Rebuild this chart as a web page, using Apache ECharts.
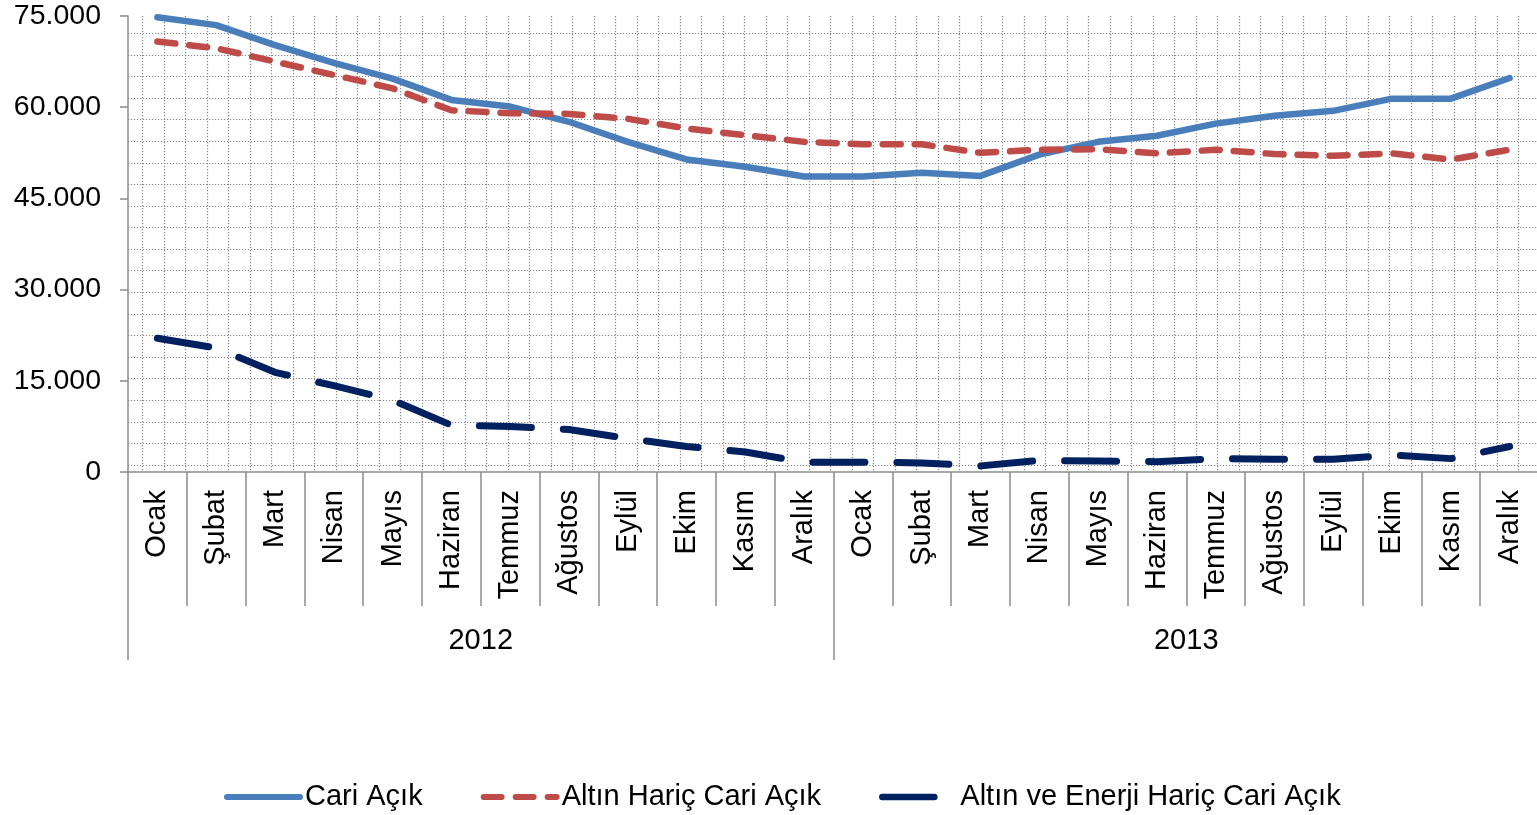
<!DOCTYPE html>
<html>
<head>
<meta charset="utf-8">
<script src="https://cdn.jsdelivr.net/npm/echarts@6/dist/echarts.min.js"></script>
<style>
html,body{margin:0;padding:0;background:#fff;}
#chart{width:1537px;height:815px;}
</style>
</head>
<body>
<div id="chart"></div>
<script>
const months = ['Ocak','Şubat','Mart','Nisan','Mayıs','Haziran','Temmuz','Ağustos','Eylül','Ekim','Kasım','Aralık',
                'Ocak','Şubat','Mart','Nisan','Mayıs','Haziran','Temmuz','Ağustos','Eylül','Ekim','Kasım','Aralık'];
const years = ['2012','2013'];
const seriesNames = ['Cari Açık','Altın Hariç Cari Açık','Altın ve Enerji Hariç Cari Açık'];
const cariAcik = [74800, 73500, 70200, 67300, 64700, 61200, 60100, 57600, 54300, 51400, 50200, 48600,
                  48600, 49200, 48700, 52200, 54300, 55300, 57300, 58600, 59400, 61400, 61400, 64800];
const altinHaric = [70800, 69700, 67500, 65300, 63100, 59500, 59000, 58900, 58100, 56500, 55400, 54300,
                    53900, 53900, 52500, 53000, 53100, 52400, 53000, 52300, 52000, 52400, 51400, 53000];
const altinEnerjiHaric = [22000, 20400, 16400, 14200, 11800, 7700, 7500, 7000, 5500, 4200, 3300, 1600,
                          1600, 1500, 1000, 1900, 1800, 1700, 2200, 2100, 2100, 2800, 2200, 4200];

const FONT = 'Liberation Sans, Arial, sans-serif';
const AXIS_COLOR = '#8c8c8c';
const DOT = {color: '#888888', width: 1.2, type: [1.2, 1.8]};
const COLORS = ['#4A7EBB', '#BE4B48', '#002060'];
const WIDTHS = [6.5, 6.5, 7];
const DASHES = ['solid', [18, 14], [52, 32]];

function fmt(v) {
  return String(v).replace(/\B(?=(\d{3})+(?!\d))/g, '.');
}

const chart = echarts.init(document.getElementById('chart'), null, {renderer: 'canvas'});
chart.setOption({
  backgroundColor: '#fff',
  animation: false,
  grid: [
    {left: 128, top: 16, width: 1411, height: 456, containLabel: false, outerBoundsMode: 'none'},
    {left: 142.7, top: 16, width: 1376, height: 456, containLabel: false, outerBoundsMode: 'none'},
    {left: 128, top: 33.3, width: 1411, height: 431.7, containLabel: false, outerBoundsMode: 'none'}
  ],
  legend: {
    left: 219, top: 776,
    itemWidth: 73, itemHeight: 14, itemGap: 58,
    textStyle: {fontSize: 29, fontFamily: FONT, color: '#000', lineHeight: 32},
    data: seriesNames.map((n, i) => ({
      name: n,
      itemStyle: {opacity: 0},
      lineStyle: {color: COLORS[i], width: WIDTHS[i] - 0.5, type: DASHES[i], cap: 'round'}
    }))
  },
  xAxis: [
    {
      type: 'category', gridIndex: 0, data: months, boundaryGap: true, position: 'bottom',
      axisLine: {show: true, lineStyle: {color: AXIS_COLOR, width: 1.5}},
      axisTick: {show: true, interval: 0, length: 134, lineStyle: {color: AXIS_COLOR, width: 1.5}},
      axisLabel: {interval: 0, rotate: 90, margin: 18, fontSize: 29, fontFamily: FONT, color: '#000'},
      splitLine: {show: false}
    },
    {
      type: 'category', gridIndex: 0, data: years, boundaryGap: true, position: 'bottom',
      axisLine: {show: false},
      axisTick: {show: true, interval: 0, length: 188, lineStyle: {color: AXIS_COLOR, width: 1.5}},
      axisLabel: {interval: 0, margin: 154, fontSize: 29, fontFamily: FONT, color: '#000'},
      splitLine: {show: false}
    },
    {
      type: 'value', gridIndex: 1, min: 0, max: 64, interval: 1,
      axisLine: {show: false}, axisTick: {show: false}, axisLabel: {show: false},
      splitLine: {show: true, lineStyle: DOT}
    },
    {
      type: 'value', gridIndex: 2, min: 0, max: 1, show: false
    }
  ],
  yAxis: [
    {
      type: 'value', gridIndex: 0, min: 0, max: 75000, interval: 15000,
      axisLine: {show: true, lineStyle: {color: AXIS_COLOR, width: 1.5}},
      axisTick: {show: true, length: 8, lineStyle: {color: AXIS_COLOR, width: 1.5}},
      axisLabel: {margin: 27, fontSize: 28.5, fontFamily: FONT, color: '#000', formatter: fmt},
      splitLine: {show: false}
    },
    {
      type: 'value', gridIndex: 1, min: 0, max: 1, show: false
    },
    {
      type: 'value', gridIndex: 2, min: 0, max: 20, interval: 1,
      axisLine: {show: false}, axisTick: {show: false}, axisLabel: {show: false},
      splitLine: {show: true, lineStyle: DOT}
    }
  ],
  series: [cariAcik, altinHaric, altinEnerjiHaric].map((d, i) => ({
    name: seriesNames[i], type: 'line', xAxisIndex: 0, yAxisIndex: 0, data: d,
    symbol: 'none', showSymbol: false, smooth: false, z: 3,
    lineStyle: {color: COLORS[i], width: WIDTHS[i], type: DASHES[i], cap: 'round', join: 'round'},
    itemStyle: {color: COLORS[i]}
  }))
});
</script>
</body>
</html>
